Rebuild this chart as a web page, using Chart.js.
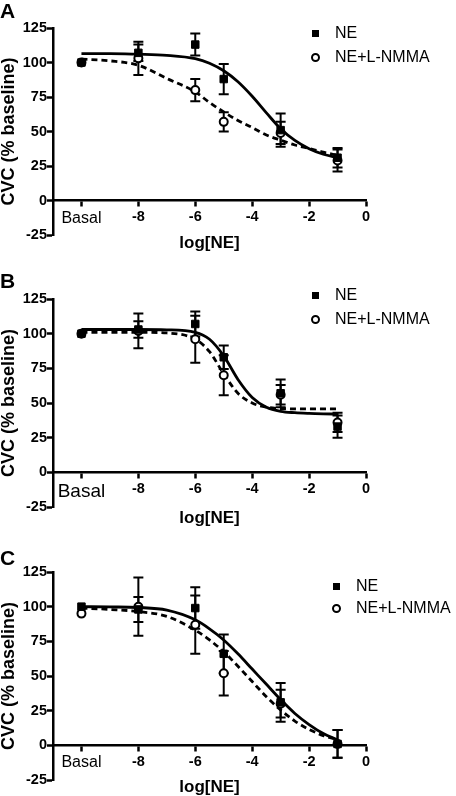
<!DOCTYPE html>
<html>
<head>
<meta charset="utf-8">
<script src="https://cdn.jsdelivr.net/npm/chart.js@4.4.1/dist/chart.umd.min.js"></script>
<style>
  body { margin: 0; background: #fff; }
  #wrap { position: relative; width: 456px; height: 796px; font-family: 'Liberation Sans', Arial, sans-serif; }
  canvas { position: absolute; left: 0; }
  .letter { position: absolute; left: 0; font-weight: bold; font-size: 21px; line-height: 1; }
  .leg { position: absolute; display: flex; align-items: center; height: 20px; font-size: 16px; white-space: nowrap; }
  .sq { display: inline-block; width: 7px; height: 7px; background: #000; margin: 0 16px 0 1px; }
  .ci { display: inline-block; width: 5px; height: 5px; border: 2px solid #000; border-radius: 50%; margin: 0 15px 0 0; }
</style>
</head>
<body>
<div id="wrap">
  <canvas id="chartA" width="456" height="260" style="top:0px"></canvas>
  <canvas id="chartB" width="456" height="270" style="top:260px"></canvas>
  <canvas id="chartC" width="456" height="266" style="top:530px"></canvas>

  <div class="letter" style="top:0px">A</div>
  <div class="letter" style="top:270px">B</div>
  <div class="letter" style="top:547px">C</div>

  <div class="leg" style="left:311px; top:23px"><span class="sq"></span>NE</div>
  <div class="leg" style="left:311px; top:47px"><span class="ci"></span>NE+L-NMMA</div>
  <div class="leg" style="left:311px; top:285px"><span class="sq"></span>NE</div>
  <div class="leg" style="left:311px; top:309px"><span class="ci"></span>NE+L-NMMA</div>
  <div class="leg" style="left:332px; top:576px"><span class="sq"></span>NE</div>
  <div class="leg" style="left:332px; top:598px"><span class="ci"></span>NE+L-NMMA</div>
</div>

<script>
// log[NE] Dosen, -10 = Basal
const doseX = [-10, -8, -6, -5, -3, -1];
const xTicks = [-10, -8, -6, -4, -2, 0];

// Panel A
const neA = [100, 107, 113, 88, 51, 31];
const neErrA = [0, 6, 8, 11, 12, 7];
const lnA = [100, 103, 80, 57, 49, 29];
const lnErrA = [0, 12, 8, 7, 8, 8];

// Panel B
const neB = [100, 103, 107, 83, 57, 33];
const neErrB = [0, 6, 9, 8.5, 10, 8];
const lnB = [100, 102, 96, 70, 56, 36];
const lnErrB = [0, 12.5, 17, 14.5, 7, 7];

// Panel C
const neC = [100, 98, 99, 66, 31, 1];
const neErrC = [0, 9, 15, 14, 14, 10];
const lnC = [95, 100, 87, 52, 30, 1];
const lnErrC = [0, 21, 21, 16, 10, 10];

// Kurven
const fitX = [-10, -9, -8, -7, -6, -5.5, -5, -4.5, -4, -3.5, -3, -2.5, -2, -1.5, -1];
const neFitA = [106.5, 106.4, 106, 105.2, 102.8, 99.5, 94, 86, 75.5, 63.5, 52, 43.5, 37.5, 33.5, 31];
const lnFitA = [102.5, 101.2, 98, 88.4, 78.7, 71, 64.2, 58, 52.9, 47.5, 43.7, 40.2, 37.7, 35, 32.8];
const neFitB = [103, 103, 103, 102.8, 101, 96, 84, 67, 54, 47, 44, 43, 42.5, 42.2, 42];
const lnFitB = [101, 101, 101, 100.5, 96, 87, 71, 57, 50, 47, 46, 45.8, 45.7, 45.7, 45.7];
const neFitC = [100, 99.8, 99.4, 97.5, 90.5, 84, 76, 66, 55, 44, 33, 23, 15, 8.5, 4];
const lnFitC = [99, 98, 96.5, 93, 83, 76, 67.5, 57, 46, 35, 25.5, 17.5, 11.5, 7, 4];

const FONT = "'Liberation Sans', Arial, sans-serif";

// Fehlerbalken zeichnen
const errorBarPlugin = {
  id: 'errorBars',
  beforeDatasetsDraw(chart) {
    const ctx = chart.ctx;
    const yScale = chart.scales.y;
    chart.data.datasets.forEach((ds, i) => {
      if (!ds.errors) return;
      const meta = chart.getDatasetMeta(i);
      meta.data.forEach((pt, j) => {
        const err = ds.errors[j];
        if (!err) return;
        const v = ds.data[j].y;
        const top = yScale.getPixelForValue(v + err);
        const bottom = yScale.getPixelForValue(v - err);
        ctx.save();
        ctx.strokeStyle = '#000';
        ctx.lineWidth = 2;
        ctx.beginPath();
        ctx.moveTo(pt.x, top);
        ctx.lineTo(pt.x, bottom);
        ctx.moveTo(pt.x - 5, top);
        ctx.lineTo(pt.x + 5, top);
        ctx.moveTo(pt.x - 5, bottom);
        ctx.lineTo(pt.x + 5, bottom);
        ctx.stroke();
        ctx.restore();
      });
    });
  }
};

function toPoints(xs, ys) {
  return xs.map((x, i) => ({ x: x, y: ys[i] }));
}

function makePanel(id, ne, neErr, ln, lnErr, neFit, lnFit, padTop, padBottom, basalSize) {
  const ctx = document.getElementById(id).getContext('2d');
  new Chart(ctx, {
    type: 'scatter',
    data: {
      datasets: [
        {
          label: 'NE',
          data: toPoints(doseX, ne),
          errors: neErr,
          pointStyle: 'rect',
          pointRadius: 5.3,
          borderWidth: 1,
          backgroundColor: '#000',
          borderColor: '#000',
          order: 0
        },
        {
          label: 'NE+L-NMMA',
          data: toPoints(doseX, ln),
          errors: lnErr,
          pointStyle: 'circle',
          pointRadius: 4,
          borderWidth: 2,
          backgroundColor: '#fff',
          borderColor: '#000',
          order: 1
        },
        {
          label: 'NE fit',
          data: toPoints(fitX, neFit),
          showLine: true,
          pointRadius: 0,
          borderColor: '#000',
          borderWidth: 2.8,
          cubicInterpolationMode: 'monotone',
          order: 2
        },
        {
          label: 'NE+L-NMMA fit',
          data: toPoints(fitX, lnFit),
          showLine: true,
          pointRadius: 0,
          borderColor: '#000',
          borderWidth: 2.8,
          borderDash: [6, 4],
          cubicInterpolationMode: 'monotone',
          order: 3
        }
      ]
    },
    options: {
      responsive: false,
      animation: false,
      layout: { padding: { top: padTop, right: 90, bottom: padBottom, left: 0 } },
      plugins: {
        legend: { display: false },
        tooltip: { enabled: false }
      },
      scales: {
        x: {
          type: 'linear',
          min: -11,
          max: 0,
          position: { y: 0 },
          afterBuildTicks: (scale) => {
            scale.ticks = xTicks.map(v => ({ value: v }));
          },
          grid: { drawOnChartArea: false, tickLength: 5, tickWidth: 2.5, tickColor: '#000' },
          border: { color: '#000', width: 2.5 },
          ticks: {
            color: '#000',
            padding: 3,
            autoSkip: false,
            maxRotation: 0,
            callback: (v) => v === -10 ? 'Basal' : v,
            font: (c) => (c.tick && c.tick.value === -10)
              ? { family: FONT, size: basalSize, weight: 'normal' }
              : { family: FONT, size: 14.5, weight: 'bold' }
          },
          title: {
            display: true,
            text: 'log[NE]',
            color: '#000',
            font: { family: FONT, size: 17, weight: 'bold' },
            padding: { top: 2, bottom: 0 }
          }
        },
        y: {
          min: -25,
          max: 125,
          afterFit: (scale) => { scale.width = 53; },
          grid: { drawOnChartArea: false, tickLength: 6, tickWidth: 2.5, tickColor: '#000' },
          border: { color: '#000', width: 2.5 },
          ticks: {
            stepSize: 25,
            color: '#000',
            padding: 0,
            font: { family: FONT, size: 14.5, weight: 'bold' }
          },
          title: {
            display: true,
            text: 'CVC (% baseline)',
            color: '#000',
            font: { family: FONT, size: 18, weight: 'bold', lineHeight: 1 },
            padding: 0
          }
        }
      }
    },
    plugins: [errorBarPlugin]
  });
}

makePanel('chartA', neA, neErrA, lnA, lnErrA, neFitA, lnFitA, 28, 25, 16);
makePanel('chartB', neB, neErrB, lnB, lnErrB, neFitB, lnFitB, 39, 23, 19);
makePanel('chartC', neC, neErrC, lnC, lnErrC, neFitC, lnFitC, 42, 16, 16);
</script>
</body>
</html>
